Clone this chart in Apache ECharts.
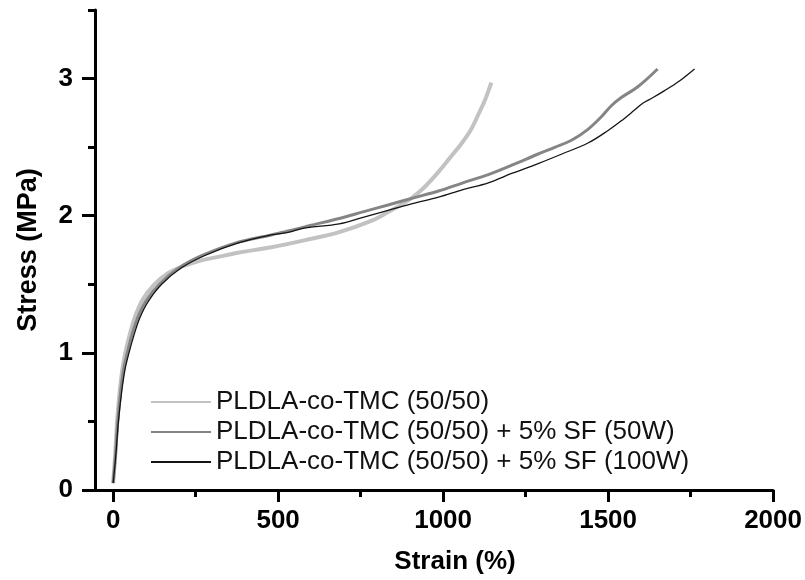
<!DOCTYPE html>
<html>
<head>
<meta charset="utf-8">
<script src="https://cdn.jsdelivr.net/npm/echarts@6/dist/echarts.min.js"></script>
<style>
  html, body { margin: 0; padding: 0; background: #fff; }
  #chart { width: 805px; height: 580px; }
</style>
</head>
<body>
<div id="chart"></div>
<script>
// strain (%) / stress (MPa)
const pureStrain = [0, 6, 12, 20, 28, 37, 50, 66, 90, 125, 165, 210, 260, 318, 378, 479, 579, 685, 780, 836, 866, 900, 940, 986, 1020, 1057, 1085, 1107, 1128, 1146];
const pureStress = [0.05, 0.25, 0.5, 0.72, 0.88, 1.0, 1.13, 1.26, 1.39, 1.50, 1.58, 1.63, 1.67, 1.70, 1.73, 1.77, 1.82, 1.88, 1.96, 2.03, 2.07, 2.12, 2.20, 2.32, 2.42, 2.53, 2.63, 2.74, 2.85, 2.97];

const sf50Strain = [0, 7, 14, 23, 32, 43, 57, 75, 100, 140, 200, 270, 370, 479, 534, 600, 685, 760, 836, 910, 986, 1060, 1137, 1210, 1288, 1340, 1389, 1439, 1479, 1509, 1539, 1590, 1650];
const sf50Stress = [0.05, 0.25, 0.5, 0.72, 0.88, 1.0, 1.13, 1.26, 1.38, 1.50, 1.62, 1.71, 1.80, 1.86, 1.89, 1.93, 1.98, 2.03, 2.08, 2.13, 2.18, 2.24, 2.30, 2.37, 2.45, 2.50, 2.55, 2.63, 2.72, 2.80, 2.86, 2.94, 3.07];

const sf100Strain = [0, 8, 16, 26, 36, 48, 62, 80, 105, 147, 207, 278, 377, 479, 534, 579, 685, 760, 836, 910, 986, 1060, 1137, 1210, 1288, 1360, 1439, 1499, 1539, 1580, 1605, 1635, 1670, 1715, 1762];
const sf100Stress = [0.05, 0.25, 0.5, 0.72, 0.88, 1.0, 1.12, 1.25, 1.37, 1.50, 1.62, 1.71, 1.80, 1.86, 1.88, 1.91, 1.94, 1.99, 2.04, 2.09, 2.135, 2.19, 2.24, 2.31, 2.38, 2.45, 2.53, 2.62, 2.69, 2.77, 2.82, 2.86, 2.91, 2.98, 3.07];

const seriesNames = [
  'PLDLA-co-TMC (50/50)',
  'PLDLA-co-TMC (50/50) + 5% SF (50W)',
  'PLDLA-co-TMC (50/50) + 5% SF (100W)'
];

const xMajorTicks = [0, 500, 1000, 1500, 2000];
const xMinorTicks = [250, 750, 1250, 1750];
const yMajorTicks = [0, 1, 2, 3];
const yMinorTicks = [0.5, 1.5, 2.5, 3.5];

const zip = (xs, ys) => xs.map((x, i) => [x, ys[i]]);

const chart = echarts.init(document.getElementById('chart'), null, { renderer: 'canvas' });

const font = 'Liberation Sans, Arial, sans-serif';
const axisLine = { show: true, onZero: false, lineStyle: { color: '#000', width: 3 } };
const plain = v => String(v);

function curve(name, data, color, width, z) {
  return {
    name: name,
    type: 'line',
    data: data,
    smooth: 0.35,
    showSymbol: false,
    symbol: 'none',
    lineStyle: { color: color, width: width },
    itemStyle: { color: color },
    z: z
  };
}

const option = {
  animation: false,
  backgroundColor: '#fff',
  grid: { left: 95, right: 30, top: 10, bottom: 86 },
  legend: {
    orient: 'vertical',
    left: 145,
    top: 384,
    itemWidth: 60,
    itemHeight: 10,
    itemGap: 4,
    data: seriesNames,
    itemStyle: { opacity: 0 },
    textStyle: { fontFamily: font, fontSize: 26, color: '#111', lineHeight: 24.5 }
  },
  xAxis: [
    {
      type: 'value',
      min: -55,
      max: 2000,
      position: 'bottom',
      name: 'Strain (%)',
      nameLocation: 'middle',
      nameGap: 59,
      nameTextStyle: { fontFamily: font, fontSize: 26, fontWeight: 'bold', color: '#000', padding: [0, 0, 0, 42] },
      axisLine: axisLine,
      axisTick: { show: true, customValues: xMajorTicks, length: 12, lineStyle: { color: '#000', width: 3 } },
      axisLabel: { customValues: xMajorTicks, formatter: plain, margin: 18, fontFamily: font, fontSize: 26, fontWeight: 'bold', color: '#000' },
      splitLine: { show: false }
    },
    {
      type: 'value',
      min: -55,
      max: 2000,
      position: 'bottom',
      axisLine: { show: false, onZero: false },
      axisTick: { show: true, customValues: xMinorTicks, length: 7, lineStyle: { color: '#000', width: 3 } },
      axisLabel: { show: false },
      splitLine: { show: false }
    }
  ],
  yAxis: [
    {
      type: 'value',
      min: 0,
      max: 3.5,
      position: 'left',
      name: 'Stress (MPa)',
      nameLocation: 'middle',
      nameGap: 53,
      nameTextStyle: { fontFamily: font, fontSize: 27, fontWeight: 'bold', color: '#000' },
      axisLine: axisLine,
      axisTick: { show: true, customValues: yMajorTicks, length: 13, lineStyle: { color: '#000', width: 3 } },
      axisLabel: { customValues: yMajorTicks, formatter: plain, margin: 22, fontFamily: font, fontSize: 26, fontWeight: 'bold', color: '#000' },
      splitLine: { show: false }
    },
    {
      type: 'value',
      min: 0,
      max: 3.5,
      position: 'left',
      axisLine: { show: false, onZero: false },
      axisTick: { show: true, customValues: yMinorTicks, length: 7, lineStyle: { color: '#000', width: 3 } },
      axisLabel: { show: false },
      splitLine: { show: false }
    }
  ],
  series: [
    curve(seriesNames[0], zip(pureStrain, pureStress), '#c2c2c2', 4, 2),
    curve(seriesNames[1], zip(sf50Strain, sf50Stress), '#858585', 3, 3),
    curve(seriesNames[2], zip(sf100Strain, sf100Stress), '#141414', 1.3, 4)
  ]
};

chart.setOption(option);
</script>
</body>
</html>
